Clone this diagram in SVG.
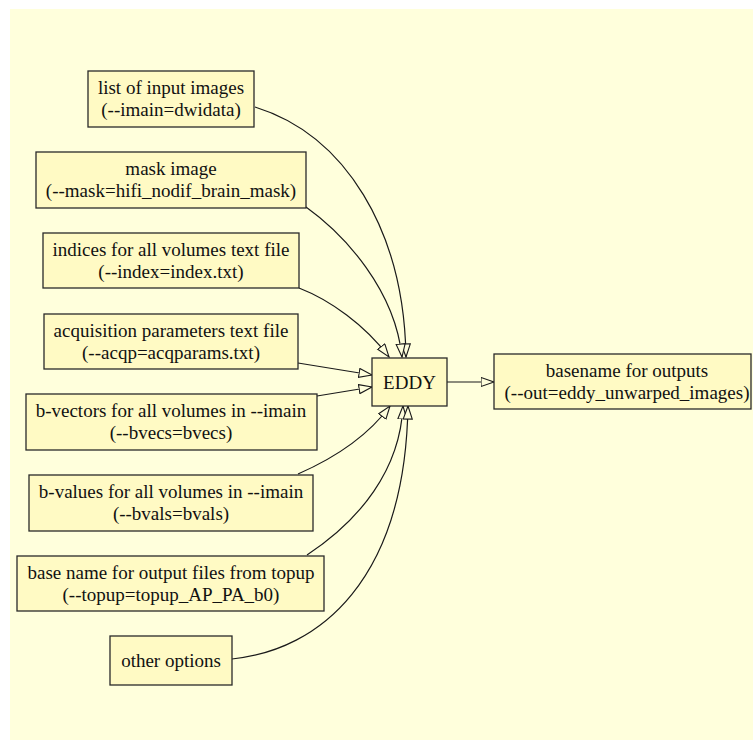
<svg xmlns="http://www.w3.org/2000/svg" width="753" height="740" viewBox="0 0 753 740">
  <style>
    .bg { fill: #ffffdc; }
    .node rect { fill: #fffac4; stroke: #2a2a2a; stroke-width: 1.3; }
    .node text { font-family: "Liberation Serif", "Times New Roman", serif; font-size: 19px; fill: #111; text-anchor: middle; }
    .edge { fill: none; stroke: #1a1a1a; stroke-width: 1.2; marker-end: url(#arrow); }
  </style>
  <defs>
    <marker id="arrow" markerUnits="userSpaceOnUse" markerWidth="16" markerHeight="12" refX="13.5" refY="5" orient="auto">
      <path d="M0.5,0.5 L13.5,5 L0.5,9.5 Z" fill="#ffffdc" stroke="#1a1a1a" stroke-width="1.1"/>
    </marker>
  </defs>
  <rect class="bg" x="10" y="9" width="743" height="731"/>

  <g id="connectors">
    <path class="edge" d="M255,107 C345,135 404,230 406,357"/>
    <path class="edge" d="M306,207 C345,235 395,290 402,357"/>
    <path class="edge" d="M299,288 C330,300 365,325 389,357"/>
    <path class="edge" d="M298,363 L372,375"/>
    <path class="edge" d="M317,396 L372,387"/>
    <path class="edge" d="M298,474 C330,460 365,440 390,406"/>
    <path class="edge" d="M307,555 C360,520 400,470 403,406"/>
    <path class="edge" d="M232,659 C320,650 405,580 408,406"/>
    <path class="edge" d="M447,382 L494,382"/>
  </g>

  <g id="imain" class="node">
    <rect x="88" y="71" width="166" height="56"/>
    <text x="171" y="94">list of input images</text>
    <text x="171" y="116">(--imain=dwidata)</text>
  </g>
  <g id="mask" class="node">
    <rect x="36" y="152" width="270" height="56"/>
    <text x="171" y="175">mask image</text>
    <text x="171" y="197">(--mask=hifi_nodif_brain_mask)</text>
  </g>
  <g id="index" class="node">
    <rect x="43" y="233" width="256" height="55"/>
    <text x="171" y="256">indices for all volumes text file</text>
    <text x="171" y="278">(--index=index.txt)</text>
  </g>
  <g id="acqp" class="node">
    <rect x="44" y="314" width="254" height="55"/>
    <text x="171" y="337">acquisition parameters text file</text>
    <text x="171" y="359">(--acqp=acqparams.txt)</text>
  </g>
  <g id="bvecs" class="node">
    <rect x="26" y="394" width="291" height="56"/>
    <text x="171" y="417">b-vectors for all volumes in --imain</text>
    <text x="171" y="439">(--bvecs=bvecs)</text>
  </g>
  <g id="bvals" class="node">
    <rect x="29" y="475" width="284" height="56"/>
    <text x="171" y="498">b-values for all volumes in --imain</text>
    <text x="171" y="520">(--bvals=bvals)</text>
  </g>
  <g id="topup" class="node">
    <rect x="17" y="556" width="307" height="55"/>
    <text x="171" y="579">base name for output files from topup</text>
    <text x="171" y="601">(--topup=topup_AP_PA_b0)</text>
  </g>
  <g id="other" class="node">
    <rect x="110" y="636" width="122" height="49"/>
    <text x="171" y="667">other options</text>
  </g>
  <g id="eddy" class="node">
    <rect x="372" y="358" width="75" height="48"/>
    <text x="409.5" y="388.5">EDDY</text>
  </g>
  <g id="out" class="node">
    <rect x="494" y="354" width="257" height="55"/>
    <text x="627" y="376.5">basename for outputs</text>
    <text x="627" y="398.5">(--out=eddy_unwarped_images)</text>
  </g>
</svg>
